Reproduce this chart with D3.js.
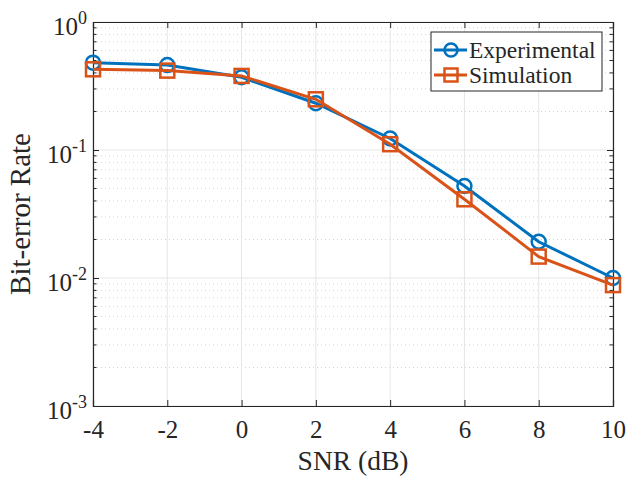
<!DOCTYPE html>
<html>
<head>
<meta charset="utf-8">
<script src="https://d3js.org/d3.v7.min.js"></script>
<style>
  body { margin: 0; background: #fff; }
  text { font-family: "Liberation Serif", "Times New Roman", serif; fill: #262626; }
</style>
</head>
<body>
<script>
var snr = [-4, -2, 0, 2, 4, 6, 8, 10];
var experimental = [0.481, 0.461, 0.370, 0.232, 0.123, 0.0523, 0.0192, 0.0100];
var simulation = [0.427, 0.417, 0.379, 0.249, 0.111, 0.0412, 0.0147, 0.0088];
var xTicks = [-4, -2, 0, 2, 4, 6, 8, 10];
var yExp = [-3, -2, -1, 0];
var seriesNames = ["Experimental", "Simulation"];

var W = 629, H = 477;
var m = {left: 93, right: 16, top: 22, bottom: 71};

var svg = d3.select("body").append("svg")
  .attr("width", W)
  .attr("height", H)

var x = d3.scaleLinear().domain([-4, 10]).range([m.left, W - m.right]);
var y = d3.scaleLog().domain([1e-3, 1]).range([H - m.bottom, m.top]);

// minor values 2..9 x 10^k
var minor = [];
yExp.slice(0, 3).forEach(function(e) {
  for (var k = 2; k <= 9; k++) minor.push(k * Math.pow(10, e));
});

var grid = svg.append("g");
grid.selectAll(".ymin").data(minor).enter().append("line")
  .attr("x1", m.left).attr("x2", W - m.right)
  .attr("y1", function(d) { return y(d); }).attr("y2", function(d) { return y(d); })
  .attr("stroke", "#d4d4d4").attr("stroke-dasharray", "1,3");
grid.selectAll(".ymaj").data(yExp).enter().append("line")
  .attr("x1", m.left).attr("x2", W - m.right)
  .attr("y1", function(d) { return y(Math.pow(10, d)); }).attr("y2", function(d) { return y(Math.pow(10, d)); })
  .attr("stroke", "#e6e6e6");
grid.selectAll(".xmaj").data(xTicks).enter().append("line")
  .attr("y1", m.top).attr("y2", H - m.bottom)
  .attr("x1", function(d) { return x(d); }).attr("x2", function(d) { return x(d); })
  .attr("stroke", "#e6e6e6");

// axes with inward ticks
var axisCol = "#262626";
var gx = svg.append("g").attr("transform", "translate(0," + (H - m.bottom) + ")")
  .call(d3.axisBottom(x).tickValues(xTicks).tickSize(-6).tickPadding(14)
    .tickFormat(function(d) { return d < 0 ? "-" + Math.abs(d) : d; }));
var gxTop = svg.append("g").attr("transform", "translate(0," + m.top + ")")
  .call(d3.axisTop(x).tickValues(xTicks).tickSize(-6).tickFormat(""));
var gy = svg.append("g").attr("transform", "translate(" + m.left + ",0)")
  .call(d3.axisLeft(y).tickValues(yExp.map(function(e) { return Math.pow(10, e); }))
    .tickSize(-6).tickPadding(10).tickFormat(""));
var gyR = svg.append("g").attr("transform", "translate(" + (W - m.right) + ",0)")
  .call(d3.axisRight(y).tickValues(yExp.map(function(e) { return Math.pow(10, e); }))
    .tickSize(-6).tickFormat(""));
[gy, gyR].forEach(function(g, i) {
  g.selectAll(".mt").data(minor).enter().append("line")
    .attr("x1", 0).attr("x2", i === 0 ? 3.5 : -3.5)
    .attr("y1", function(d) { return y(d); }).attr("y2", function(d) { return y(d); })
    .attr("stroke", axisCol);
});
[gx, gxTop, gy, gyR].forEach(function(g) {
  g.select(".domain").attr("stroke", axisCol).attr("stroke-width", 1.2);
  g.selectAll(".tick line").attr("stroke", axisCol);
});
gx.selectAll(".tick text").attr("font-size", 25).attr("font-family", "Liberation Serif").attr("fill", axisCol);

// y tick labels 10^k
var yl = svg.append("g");
yExp.forEach(function(e) {
  var t = yl.append("text")
    .attr("x", 87).attr("y", y(Math.pow(10, e)) + 13)
    .attr("text-anchor", "end").attr("font-size", 25);
  t.append("tspan").text("10");
  t.append("tspan").attr("dy", -11).attr("font-size", 18).text(e);
});

svg.append("text").attr("x", (m.left + W - m.right) / 2).attr("y", 470)
  .attr("text-anchor", "middle").attr("font-size", 27.5).text("SNR (dB)");
svg.append("text")
  .attr("transform", "translate(30," + ((m.top + H - m.bottom) / 2) + ") rotate(-90)")
  .attr("text-anchor", "middle").attr("font-size", 29).text("Bit-error Rate");

var colors = ["#0072BD", "#D95319"];
var line = d3.line().x(function(d) { return x(d[0]); }).y(function(d) { return y(d[1]); });
var allSeries = [experimental, simulation];

allSeries.forEach(function(vals, i) {
  var pts = snr.map(function(s, j) { return [s, vals[j]]; });
  svg.append("path").datum(pts).attr("d", line)
    .attr("fill", "none").attr("stroke", colors[i]).attr("stroke-width", 3);
  var mk = svg.append("g").selectAll("g").data(pts).enter();
  if (i === 0) {
    mk.append("circle").attr("cx", function(d) { return x(d[0]); }).attr("cy", function(d) { return y(d[1]); })
      .attr("r", 7).attr("fill", "none").attr("stroke", colors[i]).attr("stroke-width", 2.5);
  } else {
    mk.append("rect").attr("x", function(d) { return x(d[0]) - 7; }).attr("y", function(d) { return y(d[1]) - 7; })
      .attr("width", 14).attr("height", 14).attr("fill", "none").attr("stroke", colors[i]).attr("stroke-width", 2.5);
  }
});

// legend
var lg = svg.append("g");
lg.append("rect").attr("x", 431).attr("y", 32).attr("width", 171).attr("height", 59)
  .attr("fill", "#fff").attr("stroke", axisCol).attr("stroke-width", 1);
seriesNames.forEach(function(n, i) {
  var ly = 50 + i * 25;
  lg.append("line").attr("x1", 434).attr("x2", 467).attr("y1", ly).attr("y2", ly)
    .attr("stroke", colors[i]).attr("stroke-width", 3);
  if (i === 0) {
    lg.append("circle").attr("cx", 451).attr("cy", ly).attr("r", 6.5)
      .attr("fill", "none").attr("stroke", colors[i]).attr("stroke-width", 2.5);
  } else {
    lg.append("rect").attr("x", 444.5).attr("y", ly - 6.5).attr("width", 13).attr("height", 13)
      .attr("fill", "none").attr("stroke", colors[i]).attr("stroke-width", 2.5);
  }
  lg.append("text").attr("x", 469).attr("y", ly + 8).attr("font-size", 23.5).text(n);
});
</script>
</body>
</html>
